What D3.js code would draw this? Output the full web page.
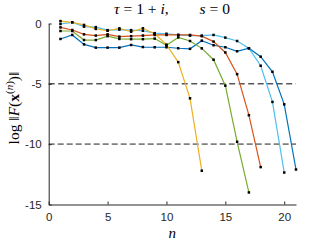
<!DOCTYPE html>
<html>
<head>
<meta charset="utf-8">
<script src="https://cdn.jsdelivr.net/npm/d3@7"></script>
<style>
  body { margin: 0; background: #fff; }
  svg { display: block; }
  .tick text { font-family: "Liberation Sans", Arial, sans-serif; font-size: 11.5px; fill: #262626; }
  .math { font-family: "Liberation Serif", "DejaVu Serif", serif; fill: #000; }
</style>
</head>
<body>
<svg id="chart" width="327" height="245"></svg>
<script>
// log ||F(x^(n))|| per iteration n, one array per run
const yellowVals = [0.2, 0.1, -0.12, -0.45, -0.6, -0.4, -0.68, -0.4, -0.85, -1.75, -3.2, -6.2, -12.2];
const greenVals = [-0.62, -0.62, -1.37, -1.37, -1.05, -1.28, -1.3, -1.3, -1.25, -1.8, -1.15, -1.45, -2.06, -3.0, -5.15, -9.8, -14.0];
const orangeVals = [-0.32, -0.54, -0.9, -1.0, -0.9, -1.09, -1.05, -1.0, -0.95, -0.95, -0.95, -0.95, -1.05, -1.5, -2.4, -4.2, -7.6, -11.9];
const lightBlueVals = [-0.04, 0.1, -0.26, -0.3, -0.55, -0.5, -0.55, -0.6, -0.8, -0.85, -0.95, -1.0, -1.0, -0.95, -1.17, -1.45, -2.05, -3.5, -6.5, -12.35];
const blueVals = [-1.28, -0.95, -1.73, -2.0, -2.0, -2.0, -1.78, -1.95, -1.97, -1.97, -2.05, -2.1, -1.42, -1.8, -1.97, -2.3, -2.05, -2.75, -4.0, -6.7, -12.1];

const seriesList = [
  { vals: blueVals, color: '#0072BD' },
  { vals: lightBlueVals, color: '#4DBEEE' },
  { vals: orangeVals, color: '#D95319' },
  { vals: greenVals, color: '#77AC30' },
  { vals: yellowVals, color: '#EDB120' }
];
const xTicks = [0, 5, 10, 15, 20];
const yTicks = [0, -5, -10, -15];
const refLines = [
  { v: -5, color: '#000', width: 1, dash: '6,3.5' },
  { v: -10, color: '#808080', width: 1.6, dash: '6,3' }
];

const svg = d3.select('#chart');
const x = d3.scaleLinear().domain([0, 21]).range([48.7, 296]);
const y = d3.scaleLinear().domain([-15, 0]).range([204.5, 23.5]);

// reference dashed lines
svg.append('g').selectAll('line')
  .data(refLines)
  .join('line')
  .attr('x1', x(0)).attr('x2', x(21))
  .attr('y1', (d) => y(d.v)).attr('y2', (d) => y(d.v))
  .attr('stroke', (d) => d.color)
  .attr('stroke-width', (d) => d.width)
  .attr('stroke-dasharray', (d) => d.dash);

// axes (MATLAB style: ticks inward, box off)
const xAxis = svg.append('g')
  .attr('transform', `translate(0,${y(-15)})`)
  .call(d3.axisBottom(x).tickValues(xTicks).tickSizeInner(-3).tickSizeOuter(0).tickPadding(8));
const yAxis = svg.append('g')
  .attr('transform', `translate(${x(0)},0)`)
  .call(d3.axisLeft(y).tickValues(yTicks).tickSizeInner(-3).tickSizeOuter(0).tickPadding(7).tickFormat((d) => String(d)));
[xAxis, yAxis].forEach((a) => {
  a.select('.domain').attr('stroke', '#262626');
  a.selectAll('.tick line').attr('stroke', '#262626');
});

// lines
const line = d3.line().x((d, i) => x(i + 1)).y((d) => y(d));
svg.append('g').selectAll('path')
  .data(seriesList)
  .join('path')
  .attr('fill', 'none')
  .attr('stroke', (d) => d.color)
  .attr('stroke-width', 1.2)
  .attr('d', (d) => line(d.vals));

// markers
svg.append('g').selectAll('g')
  .data(seriesList)
  .join('g')
  .selectAll('rect')
  .data((d) => d.vals)
  .join('rect')
  .attr('x', (d, i) => x(i + 1) - 1.25)
  .attr('y', (d) => y(d) - 1.25)
  .attr('width', 2.5).attr('height', 2.5)
  .attr('fill', '#000');

// title
const title = svg.append('text').attr('class', 'math')
  .attr('x', 172).attr('y', 14).attr('text-anchor', 'middle').attr('font-size', 15.5);
title.append('tspan').attr('font-style', 'italic').text('τ');
title.append('tspan').text(' = 1 + ');
title.append('tspan').attr('font-style', 'italic').text('i');
title.append('tspan').text(',\u2003\u2003');
title.append('tspan').attr('font-style', 'italic').text('s');
title.append('tspan').text(' = 0');

// x label
svg.append('text').attr('class', 'math')
  .attr('x', x(10.5)).attr('y', 238).attr('text-anchor', 'middle')
  .attr('font-size', 15).attr('font-style', 'italic').text('n');

// y label
const yl = svg.append('text').attr('class', 'math')
  .attr('transform', 'translate(19,108) rotate(-90)')
  .attr('text-anchor', 'middle').attr('font-size', 15.5);
yl.append('tspan').text('log \u2016');
yl.append('tspan').attr('font-style', 'italic').text('F');
yl.append('tspan').text('(');
yl.append('tspan').attr('font-weight', 'bold').text('x');
yl.append('tspan').attr('font-size', 11).attr('dy', -6).text('(');
yl.append('tspan').attr('font-size', 11).attr('font-style', 'italic').text('n');
yl.append('tspan').attr('font-size', 11).text(')');
yl.append('tspan').attr('dy', 6).text(')\u2016');
</script>
</body>
</html>
